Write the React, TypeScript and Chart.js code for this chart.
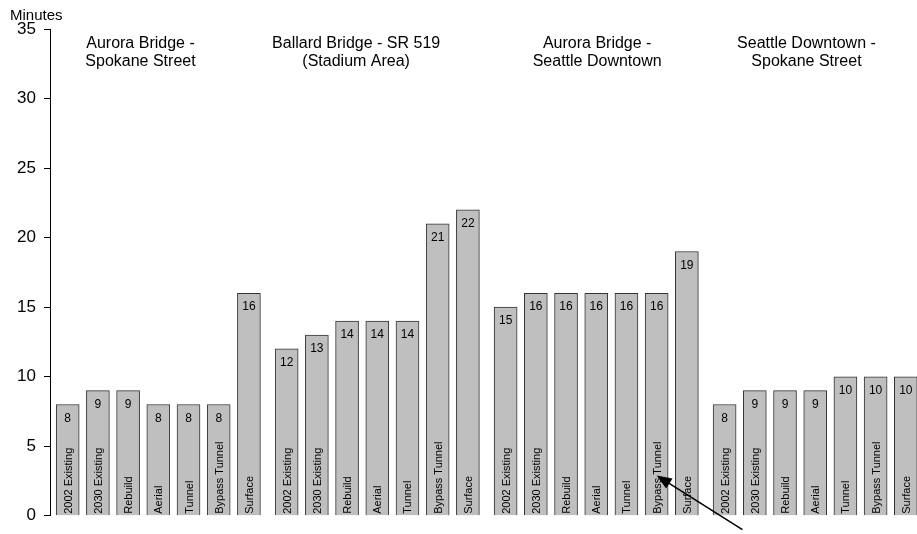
import React, { useEffect, useRef } from "react";
import { Chart, registerables } from "chart.js";

Chart.register(...registerables);

// ---- data ----
const scenarios = ["2002 Existing", "2030 Existing", "Rebuild", "Aerial", "Tunnel", "Bypass Tunnel", "Surface"];
const auroraSpokane = [8, 9, 9, 8, 8, 8, 16];
const ballardSR519 = [12, 13, 14, 14, 14, 21, 22];
const auroraDowntown = [15, 16, 16, 16, 16, 16, 19];
const downtownSpokane = [8, 9, 9, 9, 10, 10, 10];
const groupValues = [auroraSpokane, ballardSR519, auroraDowntown, downtownSpokane];
const groupTitles = [
  ["Aurora Bridge -", "Spokane Street"],
  ["Ballard Bridge - SR 519", "(Stadium Area)"],
  ["Aurora Bridge -", "Seattle Downtown"],
  ["Seattle Downtown -", "Spokane Street"],
];
const yTicks = [0, 5, 10, 15, 20, 25, 30, 35];
const yLabel = "Minutes";

// layout (x positions in bar units)
const GROUP_GAP = 0.25;
const X_MIN = -0.586;
const X_MAX = 28.12;
const titleCenters = [2.41, 9.55, 17.53, 24.46];
const arrowTip = { group: 2, bar: 5, y: 2.9 };
const arrowTail = { x: 22.34, y: -1.0 };

const FONT = "'Liberation Sans', Arial, Helvetica, sans-serif";

const points: { x: number; y: number; label: string }[] = [];
groupValues.forEach((vals, g) => {
  vals.forEach((v, j) => {
    points.push({ x: g * (scenarios.length + GROUP_GAP) + j, y: v, label: scenarios[j] });
  });
});

const annotations = {
  id: "annotations",
  afterDatasetsDraw(chart: any) {
    const { ctx, scales } = chart;
    const xs = scales.x;
    const ys = scales.y;
    const meta = chart.getDatasetMeta(0);
    const bottom = ys.getPixelForValue(0);
    ctx.save();
    ctx.fillStyle = "#000";
    meta.data.forEach((bar: any, i: number) => {
      const p = points[i];
      ctx.font = `12px ${FONT}`;
      ctx.textAlign = "center";
      ctx.textBaseline = "alphabetic";
      ctx.fillText(String(p.y), bar.x, bar.y + 17);
      ctx.save();
      ctx.translate(bar.x + 4, bottom - 2);
      ctx.rotate(-Math.PI / 2);
      ctx.font = `11px ${FONT}`;
      ctx.textAlign = "left";
      ctx.fillText(p.label, 0, 0);
      ctx.restore();
    });
    ctx.font = `16px ${FONT}`;
    ctx.textAlign = "center";
    groupTitles.forEach((lines, g) => {
      const cx = xs.getPixelForValue(titleCenters[g]);
      lines.forEach((t, k) => ctx.fillText(t, cx, 48 + k * 18));
    });
    ctx.font = `15px ${FONT}`;
    ctx.textAlign = "left";
    ctx.fillText(yLabel, 10, 20);
    const tx = xs.getPixelForValue(arrowTip.group * (scenarios.length + GROUP_GAP) + arrowTip.bar);
    const ty = ys.getPixelForValue(arrowTip.y);
    const sx = xs.getPixelForValue(arrowTail.x);
    const sy = ys.getPixelForValue(arrowTail.y);
    const ang = Math.atan2(ty - sy, tx - sx);
    const headLen = 15;
    const headW = 6;
    ctx.strokeStyle = "#000";
    ctx.lineWidth = 1.5;
    ctx.beginPath();
    ctx.moveTo(sx, sy);
    ctx.lineTo(tx - Math.cos(ang) * headLen * 0.8, ty - Math.sin(ang) * headLen * 0.8);
    ctx.stroke();
    ctx.beginPath();
    ctx.moveTo(tx, ty);
    const bx = tx - Math.cos(ang) * headLen;
    const by = ty - Math.sin(ang) * headLen;
    ctx.lineTo(bx + Math.sin(ang) * headW, by - Math.cos(ang) * headW);
    ctx.lineTo(bx - Math.sin(ang) * headW, by + Math.cos(ang) * headW);
    ctx.closePath();
    ctx.fill();
    ctx.restore();
  },
};

export default function App() {
  const ref = useRef<HTMLCanvasElement>(null);
  useEffect(() => {
    if (!ref.current) return;
    const chart = new Chart(ref.current, {
      type: "bar",
      data: {
        datasets: [
          {
            data: points.map((p) => ({ x: p.x, y: p.y })),
            backgroundColor: "#BFBFBF",
            borderColor: "#333333",
            borderWidth: 1,
            barThickness: 23,
          } as any,
        ],
      },
      options: {
        animation: false,
        responsive: false,
        devicePixelRatio: 1,
        layout: { padding: { top: 29, bottom: 11, left: 0, right: 0 } },
        plugins: { legend: { display: false }, tooltip: { enabled: false }, title: { display: false } },
        scales: {
          x: {
            type: "linear",
            display: false,
            offset: false,
            bounds: "data",
            grid: { offset: false },
            afterDataLimits: (s: any) => {
              s.min = X_MIN;
              s.max = X_MAX;
            },
            afterBuildTicks: (s: any) => {
              s.ticks = [];
            },
            afterSetDimensions: (s: any) => {},
          } as any,
          y: {
            min: 0,
            max: 35,
            afterFit: (s: any) => {
              s.width = 50;
            },
            afterBuildTicks: (s: any) => {
              s.ticks = yTicks.map((v) => ({ value: v }));
            },
            ticks: { color: "#000", font: { size: 17, family: FONT }, padding: 8 },
            grid: { drawOnChartArea: false, drawTicks: true, tickLength: 6, color: "#000" },
            border: { display: true, color: "#000", width: 1 },
          },
        },
      },
      plugins: [annotations],
    });
    return () => chart.destroy();
  }, []);
  return (
    <div style={{ position: "absolute", left: 0, top: 0, width: 917, height: 534, background: "#fff" }}>
      <canvas ref={ref} width={917} height={534} style={{ display: "block" }} />
    </div>
  );
}
